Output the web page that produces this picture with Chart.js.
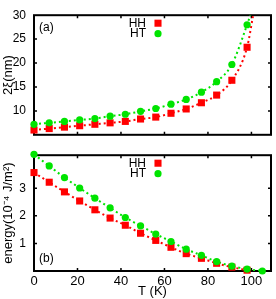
<!DOCTYPE html>
<html>
<head>
<meta charset="utf-8">
<script src="https://cdn.jsdelivr.net/npm/chart.js@4.4.0/dist/chart.umd.min.js"></script>
<style>
body { margin: 0; background: #fff; width: 276px; height: 299px; position: relative; overflow: hidden; }
#wrapA { position: absolute; left: 0; top: 0; width: 276px; height: 150px; }
#wrapB { position: absolute; left: 0; top: 140px; width: 276px; height: 159px; }
</style>
</head>
<body>
<div id="wrapA"><canvas id="chartA"></canvas></div>
<div id="wrapB"><canvas id="chartB"></canvas></div>
<script>
// temperatures (K)
var temps = [0, 7, 14, 21, 28, 35, 42, 49, 56, 63, 70, 77, 84, 91, 98, 105];
// (a) 2xi (nm)
var xiHH = [6.0, 6.3, 6.6, 6.9, 7.2, 7.5, 7.8, 8.3, 8.7, 9.5, 10.4, 11.7, 13.3, 16.4, 23.3];
var xiHT = [7.2, 7.5, 7.8, 8.1, 8.4, 8.9, 9.3, 9.9, 10.5, 11.4, 12.4, 13.9, 16.1, 19.7, 28.0];
// where the dotted fits leave the top of panel (a): [T, 2xi]
var fitEndHH = [100.8, 30];
var fitEndHT = [99.5, 30];
// (b) energy (10^-4 J/m^2)
var enHH = [3.57, 3.22, 2.87, 2.54, 2.22, 1.92, 1.66, 1.37, 1.11, 0.86, 0.63, 0.46, 0.28, 0.14, 0.03];
var enHT = [4.23, 3.81, 3.39, 3.01, 2.64, 2.29, 1.94, 1.64, 1.34, 1.07, 0.79, 0.57, 0.34, 0.18, 0.07, 0.0];
// ticks
var xTicks = [0, 20, 40, 60, 80, 100];
var yTicksA = [10, 15, 20, 25, 30];
var yTicksB = [1, 2, 3];

var RED = '#ff0000';
var GREEN = 'rgb(0,228,0)';
var FONT = 'Liberation Sans, Arial, sans-serif';

function pts(ys, extra) {
    var out = ys.map(function (y, i) { return { x: temps[i], y: y }; });
    if (extra) out.push({ x: extra[0], y: extra[1] });
    return out;
}

// frame + inward tick marks on all four sides
var framePlugin = {
    id: 'frame',
    beforeDatasetsDraw: function (chart, args, opts) {
        var a = chart.chartArea, ctx = chart.ctx;
        var xs = chart.scales.x, ys = chart.scales.y;
        ctx.save();
        ctx.strokeStyle = '#000';
        ctx.lineWidth = 1.5;
        ctx.beginPath();
        xTicks.forEach(function (v) {
            var px = xs.getPixelForValue(v);
            if (px < a.left + 2) return;
            ctx.moveTo(px, a.top); ctx.lineTo(px, a.top + 3);
            ctx.moveTo(px, a.bottom); ctx.lineTo(px, a.bottom - 3);
        });
        opts.yTicks.forEach(function (v) {
            var py = ys.getPixelForValue(v);
            if (py < a.top + 2) return;
            ctx.moveTo(a.left, py); ctx.lineTo(a.left + 3, py);
            ctx.moveTo(a.right, py); ctx.lineTo(a.right - 3, py);
        });
        ctx.stroke();
        ctx.lineWidth = 2;
        ctx.strokeRect(a.left, a.top, a.right - a.left, a.bottom - a.top);
        ctx.restore();
    }
};

// legend in the top right and the panel letter
var notePlugin = {
    id: 'note',
    afterDatasetsDraw: function (chart, args, opts) {
        var a = chart.chartArea, ctx = chart.ctx;
        ctx.save();
        ctx.fillStyle = '#000';
        ctx.font = '12px ' + FONT;
        ctx.textBaseline = 'middle';
        ctx.textAlign = 'left';
        ctx.fillText(opts.tag, a.left + 5, opts.tagAtBottom ? a.bottom - 12 : a.top + 12);
        ctx.textAlign = 'right';
        ctx.fillText('HH', 146, a.top + 8);
        ctx.fillText('HT', 146, a.top + 18.5);
        ctx.fillStyle = RED; ctx.strokeStyle = RED;
        Chart.helpers.drawPoint(ctx, { pointStyle: 'rect', radius: 5, borderWidth: 0 }, 158, a.top + 8);
        ctx.fillStyle = GREEN; ctx.strokeStyle = GREEN;
        Chart.helpers.drawPoint(ctx, { pointStyle: 'circle', radius: 3.6, borderWidth: 0 }, 158, a.top + 18.5);
        ctx.restore();
    }
};

function datasets(hh, ht) {
    return [
        { data: ht.m, showLine: false, pointStyle: 'circle', pointRadius: 3.6, backgroundColor: GREEN, borderWidth: 0, clip: false, order: 0 },
        { data: hh.m, showLine: false, pointStyle: 'rect', pointRadius: 5, backgroundColor: RED, borderWidth: 0, clip: false, order: 1 },
        { data: ht.l, showLine: true, pointRadius: 0, borderColor: GREEN, borderWidth: 2, borderDash: [2, 3], cubicInterpolationMode: 'monotone', order: 2 },
        { data: hh.l, showLine: true, pointRadius: 0, borderColor: RED, borderWidth: 2, borderDash: [2, 3], cubicInterpolationMode: 'monotone', order: 3 }
    ];
}

function yAxis(min, max, ticks, title) {
    return {
        type: 'linear', min: min, max: max,
        afterFit: function (s) { s.width = 34; },
        afterBuildTicks: function (s) { s.ticks = ticks.map(function (v) { return { value: v }; }); },
        grid: { display: false, drawTicks: false },
        border: { display: false },
        ticks: { padding: 8, color: '#000', font: { family: FONT, size: 12 }, autoSkip: false },
        title: { display: true, text: title, color: '#000', font: { family: FONT, size: 13 }, padding: { top: 1, bottom: 0 } }
    };
}

Chart.defaults.animation = false;
Chart.defaults.font.family = FONT;

new Chart(document.getElementById('chartA').getContext('2d'), {
    type: 'scatter',
    data: { datasets: datasets({ m: pts(xiHH), l: pts(xiHH, fitEndHH) }, { m: pts(xiHT), l: pts(xiHT, fitEndHT) }) },
    options: {
        responsive: true, maintainAspectRatio: false,
        layout: { padding: { top: 5, right: 3, bottom: 5, left: 0 } },
        plugins: { legend: { display: false }, tooltip: { enabled: false }, frame: { yTicks: yTicksA }, note: { tag: '(a)', tagAtBottom: false } },
        scales: {
            x: { type: 'linear', min: 0, max: 109, display: false },
            y: yAxis(5, 30, yTicksA, '2ξ(nm)')
        }
    },
    plugins: [framePlugin, notePlugin]
});

new Chart(document.getElementById('chartB').getContext('2d'), {
    type: 'scatter',
    data: { datasets: datasets({ m: pts(enHH), l: pts(enHH) }, { m: pts(enHT), l: pts(enHT) }) },
    options: {
        responsive: true, maintainAspectRatio: false,
        layout: { padding: { top: 5, right: 3, bottom: 0, left: 0 } },
        plugins: { legend: { display: false }, tooltip: { enabled: false }, frame: { yTicks: yTicksB }, note: { tag: '(b)', tagAtBottom: true } },
        scales: {
            x: {
                type: 'linear', min: 0, max: 109,
                afterFit: function (s) { s.height = 28; },
                afterBuildTicks: function (s) { s.ticks = xTicks.map(function (v) { return { value: v }; }); },
                grid: { display: false, drawTicks: false },
                border: { display: false },
                ticks: { padding: 3, color: '#000', maxRotation: 0, autoSkip: false, font: { family: FONT, size: 13 } },
                title: { display: true, text: 'T (K)', color: '#000', font: { family: FONT, size: 13 }, padding: { top: 0, bottom: 0 } }
            },
            y: yAxis(0, 4.2, yTicksB, 'energy(10⁻⁴ J/m²)')
        }
    },
    plugins: [framePlugin, notePlugin]
});
</script>
</body>
</html>
